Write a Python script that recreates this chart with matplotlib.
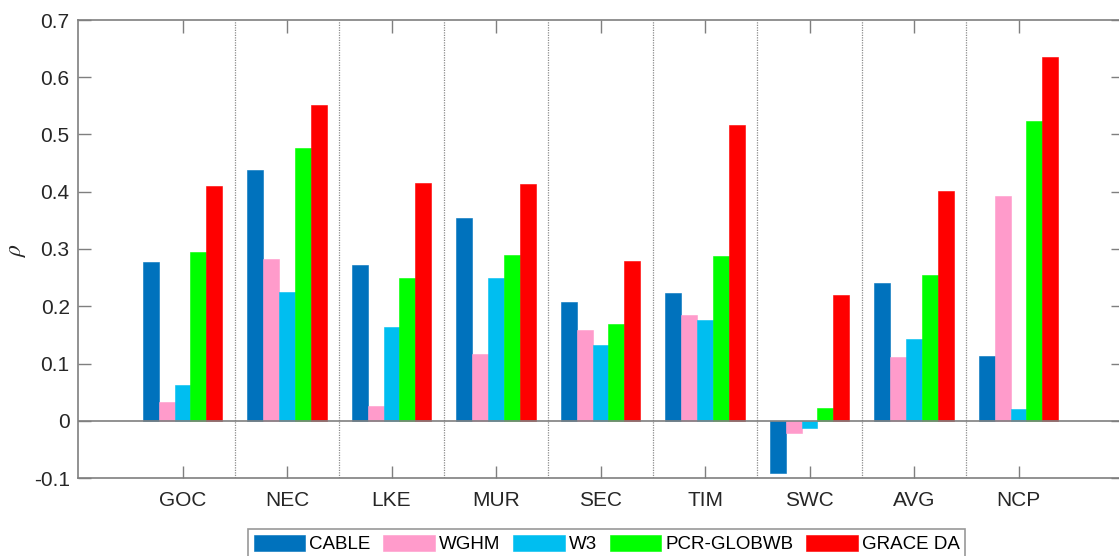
import matplotlib

matplotlib.use("Agg")
import matplotlib.pyplot as plt
import numpy as np

plt.rcParams["font.family"] = ["Liberation Sans", "DejaVu Sans"]
plt.rcParams["mathtext.fontset"] = "stix"

REGIONS = ["GOC", "NEC", "LKE", "MUR", "SEC", "TIM", "SWC", "AVG", "NCP"]
CABLE = [0.277, 0.438, 0.272, 0.355, 0.208, 0.224, -0.091, 0.240, 0.113]
WGHM = [0.033, 0.283, 0.026, 0.116, 0.159, 0.184, -0.021, 0.111, 0.392]
W3 = [0.062, 0.225, 0.164, 0.249, 0.132, 0.176, -0.012, 0.142, 0.020]
PCR = [0.295, 0.477, 0.250, 0.290, 0.169, 0.287, 0.023, 0.255, 0.523]
GRACE = [0.410, 0.551, 0.415, 0.413, 0.279, 0.517, 0.219, 0.401, 0.636]

MODELS = ["CABLE", "WGHM", "W3", "PCR-GLOBWB", "GRACE DA"]
SERIES = [CABLE, WGHM, W3, PCR, GRACE]
COLORS = ["#0072BD", "#FF9BCB", "#00BEF0", "#00FF00", "#FF0000"]

AXCOL = "#7f7f7f"
TXT = "#262626"

fig = plt.figure(figsize=(11.19, 5.56), dpi=100)
# right edge of the box runs just past the canvas
ax = fig.add_axes([78 / 1119, 78 / 556, 1045 / 1119, 458 / 556])

x = np.arange(1, len(REGIONS) + 1)
w = 0.153
handles = []
for i, (vals, c, name) in enumerate(zip(SERIES, COLORS, MODELS)):
    b = ax.bar(x + (i - 2) * w, vals, w, color=c, edgecolor=c, lw=0.4,
               label=name, zorder=2)
    handles.append(b)

ax.axhline(0, color=AXCOL, lw=1.2, zorder=3)
for xs in x[:-1] + 0.5:
    ax.axvline(xs, color="#8c8c8c", ls=(0, (1, 1)), lw=0.9, zorder=1)

ax.set_xlim(0, 10)
ax.set_ylim(-0.1, 0.7)
ax.set_xticks(x)
ax.set_xticklabels(REGIONS)
ax.set_yticks(np.arange(-0.1, 0.71, 0.1))
ax.set_yticklabels(["-0.1", "0", "0.1", "0.2", "0.3", "0.4", "0.5", "0.6", "0.7"])
ax.tick_params(direction="in", length=9, width=1, color=AXCOL, labelcolor=TXT,
               labelsize=15, top=True, right=True)
ax.tick_params(axis="x", pad=9)
ax.tick_params(axis="y", pad=6)
for s in ax.spines.values():
    s.set_color(AXCOL)
    s.set_linewidth(1.2)

fig.text(17 / 1119, 1 - 250 / 556, r"$\rho$", rotation=90, fontsize=17,
         color=TXT, ha="center", va="center")

leg = fig.legend(handles=handles, loc="upper center", ncol=5,
                 bbox_to_anchor=(606.5 / 1119, 1 - 529 / 556),
                 fontsize=13.5, frameon=True, fancybox=False,
                 handlelength=2.75, handleheight=1.0, handletextpad=0.2,
                 columnspacing=0.7, borderpad=0.3, borderaxespad=0)
leg.get_frame().set_edgecolor(AXCOL)
leg.get_frame().set_linewidth(1.2)
for t in leg.get_texts():
    t.set_color("black")

fig.savefig("out.png", dpi=100)
